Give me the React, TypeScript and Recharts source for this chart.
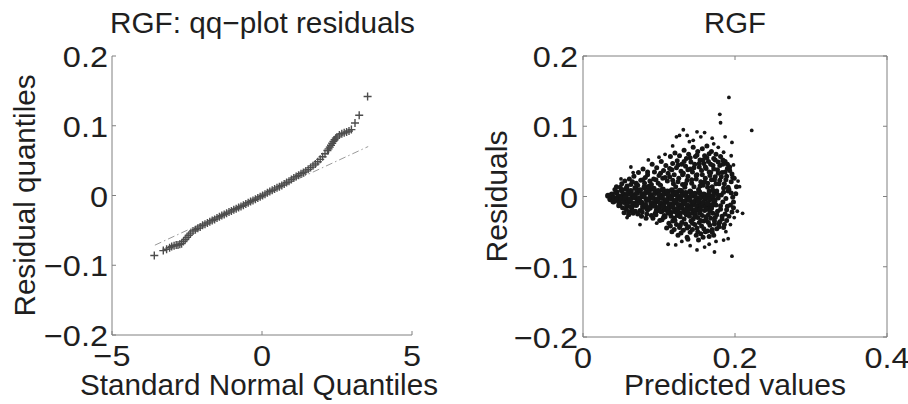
import React from 'react';
import { ScatterChart, Scatter, XAxis, YAxis, ReferenceLine } from 'recharts';

// qq-plot: theoretical normal quantiles vs. residual quantiles
const qqTheoretical = [
  -3.59, -3.29, -3.18, -3.08, -3.01, -2.93, -2.86, -2.8, -2.74, -2.68, -2.62, -2.56, -2.5, -2.44, -2.38,
  -2.3, -2.22, -2.14, -2.06, -1.98, -1.9, -1.82, -1.74, -1.66, -1.58, -1.5, -1.42, -1.34, -1.26, -1.18,
  -1.1, -1.02, -0.94, -0.86, -0.78, -0.7, -0.62, -0.54, -0.46, -0.38, -0.3, -0.22, -0.14, -0.06, 0.02,
  0.1, 0.18, 0.26, 0.34, 0.42, 0.5, 0.58, 0.66, 0.74, 0.82, 0.9, 0.98, 1.06, 1.14, 1.22, 1.3, 1.38,
  1.46, 1.54, 1.62, 1.7, 1.78, 1.86, 1.94, 2.02, 2.1, 2.18, 2.22, 2.26, 2.3, 2.34, 2.38, 2.42, 2.46,
  2.5, 2.58, 2.66, 2.74, 2.82, 2.9, 2.98, 3.1, 3.24, 3.52,
];
const qqResidual = [
  -0.086, -0.079, -0.077, -0.075, -0.073, -0.072, -0.071, -0.071, -0.07, -0.069, -0.066, -0.063, -0.06, -0.057, -0.054,
  -0.051, -0.049, -0.047, -0.045, -0.0428, -0.0411, -0.0395, -0.0378, -0.036, -0.0343, -0.0323, -0.0305, -0.0288, -0.0271, -0.0255,
  -0.0238, -0.0222, -0.0205, -0.0189, -0.0172, -0.0156, -0.0139, -0.0122, -0.0104, -0.0087, -0.007, -0.0053, -0.0036, -0.0018, 0.0,
  0.0019, 0.0038, 0.0057, 0.0076, 0.0092, 0.011, 0.0127, 0.0145, 0.0165, 0.0185, 0.0206, 0.0228, 0.025, 0.0271, 0.0291, 0.0311, 0.0331,
  0.0352, 0.0375, 0.04, 0.0425, 0.0452, 0.0484, 0.0518, 0.0556, 0.0598, 0.0645, 0.0668, 0.0694, 0.0721, 0.075, 0.0776, 0.08, 0.0822,
  0.084, 0.0868, 0.0885, 0.0898, 0.091, 0.0925, 0.0945, 0.104, 0.115, 0.142,
];
// fitted reference line (dash-dot)
const qqRefX = [-3.57, 3.54];
const qqRefY = [-0.0712, 0.0702];

// residuals vs predicted values: [predicted, residual]
const denseCore: [number, number][] = [
  [0.033, 0.001], [0.036, -0.004], [0.038, 0.003],
  [0.041, -0.002], [0.04, -0.007], [0.044, 0.006], [0.047, 0.0], [0.045, -0.005], [0.048, -0.01],
  [0.051, 0.009], [0.053, 0.003], [0.05, -0.003], [0.054, -0.008],
  [0.057, 0.011], [0.059, 0.004], [0.056, -0.001], [0.06, -0.007], [0.058, -0.013],
  [0.063, 0.008], [0.065, 0.002], [0.062, -0.004], [0.066, -0.01], [0.064, -0.015],
  [0.069, 0.012], [0.071, 0.005], [0.068, -0.001], [0.072, -0.006], [0.07, -0.012],
  [0.075, 0.009], [0.078, 0.003], [0.074, -0.003], [0.077, -0.009], [0.079, -0.015],
  [0.081, 0.013], [0.083, 0.006], [0.08, 0.0], [0.084, -0.005], [0.082, -0.012], [0.085, -0.018],
  [0.087, 0.009], [0.089, 0.002], [0.086, -0.004], [0.09, -0.01], [0.088, -0.016],
  [0.093, 0.011], [0.095, 0.005], [0.092, -0.002], [0.096, -0.007], [0.094, -0.013], [0.097, -0.02],
  [0.099, 0.008], [0.101, 0.002], [0.098, -0.004], [0.102, -0.01], [0.1, -0.016], [0.103, -0.021],
  [0.105, 0.01], [0.107, 0.004], [0.104, -0.002], [0.108, -0.008], [0.106, -0.014], [0.109, -0.019],
  [0.111, 0.007], [0.113, 0.001], [0.11, -0.005], [0.114, -0.011], [0.112, -0.017], [0.115, -0.023],
  [0.117, 0.009], [0.119, 0.003], [0.116, -0.003], [0.12, -0.009], [0.118, -0.015], [0.121, -0.021],
  [0.123, 0.006], [0.125, 0.0], [0.122, -0.006], [0.126, -0.012], [0.124, -0.018], [0.127, -0.024],
  [0.129, 0.008], [0.131, 0.002], [0.128, -0.004], [0.132, -0.01], [0.13, -0.016], [0.133, -0.022],
  [0.135, 0.005], [0.137, -0.001], [0.134, -0.007], [0.138, -0.013], [0.136, -0.019],
  [0.141, 0.007], [0.143, 0.001], [0.14, -0.005], [0.144, -0.011], [0.142, -0.017], [0.145, -0.023],
  [0.147, 0.004], [0.149, -0.002], [0.146, -0.008], [0.15, -0.014], [0.148, -0.02],
  [0.153, 0.006], [0.155, -0.001], [0.152, -0.007], [0.156, -0.013], [0.154, -0.019],
  [0.159, 0.003], [0.161, -0.003], [0.158, -0.009], [0.162, -0.015],
  [0.165, 0.002], [0.167, -0.004], [0.164, -0.01], [0.168, -0.016],
  [0.171, 0.0], [0.173, -0.006], [0.17, -0.012],
];

const spreadCloud: [number, number][] = [
  [0.044, 0.014], [0.047, -0.013], [0.042, 0.01],
  [0.051, 0.018], [0.049, 0.013], [0.052, -0.016], [0.048, -0.012],
  [0.055, 0.022], [0.058, 0.015], [0.057, -0.018], [0.054, -0.023],
  [0.061, 0.025], [0.063, 0.017], [0.064, -0.02], [0.06, -0.026],
  [0.067, 0.029], [0.07, 0.019], [0.069, -0.021], [0.066, -0.024],
  [0.073, 0.034], [0.076, 0.023], [0.072, 0.016], [0.075, -0.02], [0.077, -0.028],
  [0.079, 0.039], [0.082, 0.027], [0.081, 0.019], [0.078, -0.022], [0.083, -0.031],
  [0.085, 0.031], [0.088, 0.022], [0.087, 0.015], [0.084, -0.025],
  [0.091, 0.046], [0.094, 0.035], [0.093, 0.025], [0.09, 0.017], [0.095, -0.024], [0.092, -0.031],
  [0.097, 0.041], [0.1, 0.03], [0.099, 0.019], [0.096, -0.026], [0.101, -0.034],
  [0.103, 0.05], [0.106, 0.037], [0.105, 0.026], [0.102, 0.016], [0.107, -0.027], [0.104, -0.033],
  [0.109, 0.044], [0.112, 0.033], [0.111, 0.022], [0.108, -0.029], [0.113, -0.038], [0.11, -0.045],
  [0.115, 0.057], [0.118, 0.047], [0.117, 0.038], [0.114, 0.028], [0.119, 0.018], [0.116, -0.028], [0.118, -0.035], [0.115, -0.042], [0.117, -0.05],
  [0.121, 0.062], [0.124, 0.051], [0.123, 0.041], [0.12, 0.031], [0.125, 0.021], [0.122, 0.014], [0.124, -0.027], [0.121, -0.034], [0.123, -0.04], [0.12, -0.047], [0.125, -0.055],
  [0.127, 0.058], [0.13, 0.046], [0.129, 0.036], [0.126, 0.026], [0.131, 0.017], [0.128, -0.029], [0.13, -0.037], [0.127, -0.044], [0.129, -0.052],
  [0.133, 0.066], [0.136, 0.054], [0.135, 0.043], [0.132, 0.033], [0.137, 0.023], [0.134, 0.013], [0.136, -0.026], [0.133, -0.032], [0.135, -0.039], [0.132, -0.048], [0.137, -0.058],
  [0.139, 0.06], [0.142, 0.049], [0.141, 0.039], [0.138, 0.029], [0.143, 0.019], [0.14, -0.028], [0.142, -0.035], [0.139, -0.043], [0.141, -0.051], [0.138, -0.061],
  [0.145, 0.07], [0.148, 0.057], [0.147, 0.046], [0.144, 0.035], [0.149, 0.025], [0.146, 0.014], [0.148, -0.025], [0.145, -0.032], [0.147, -0.04], [0.144, -0.047], [0.149, -0.055],
  [0.151, 0.064], [0.154, 0.052], [0.153, 0.042], [0.15, 0.031], [0.155, 0.021], [0.152, 0.01], [0.154, -0.024], [0.151, -0.03], [0.153, -0.037], [0.15, -0.045], [0.155, -0.053], [0.152, -0.062],
  [0.157, 0.068], [0.16, 0.058], [0.159, 0.047], [0.156, 0.037], [0.161, 0.026], [0.158, 0.016], [0.16, -0.02], [0.157, -0.027], [0.159, -0.035], [0.156, -0.042], [0.161, -0.05], [0.158, -0.058],
  [0.163, 0.072], [0.166, 0.061], [0.165, 0.05], [0.162, 0.04], [0.167, 0.03], [0.164, 0.019], [0.166, 0.008], [0.163, -0.018], [0.165, -0.026], [0.162, -0.033], [0.167, -0.041], [0.164, -0.049], [0.166, -0.057],
  [0.169, 0.064], [0.172, 0.054], [0.171, 0.044], [0.168, 0.034], [0.173, 0.024], [0.17, 0.014], [0.172, 0.005], [0.169, -0.017], [0.171, -0.024], [0.168, -0.031], [0.173, -0.039], [0.17, -0.047], [0.172, -0.055],
  [0.175, 0.06], [0.178, 0.049], [0.177, 0.038], [0.174, 0.028], [0.179, 0.018], [0.176, 0.008], [0.178, -0.002], [0.175, -0.012], [0.177, -0.021], [0.174, -0.03], [0.179, -0.038], [0.176, -0.046],
  [0.181, 0.057], [0.184, 0.046], [0.183, 0.034], [0.18, 0.023], [0.185, 0.012], [0.182, 0.002], [0.184, -0.008], [0.181, -0.018], [0.183, -0.028], [0.18, -0.036], [0.185, -0.044],
  [0.187, 0.05], [0.19, 0.04], [0.189, 0.029], [0.186, 0.018], [0.191, 0.008], [0.188, -0.003], [0.19, -0.014], [0.187, -0.025], [0.189, -0.034],
  [0.193, 0.042], [0.196, 0.032], [0.195, 0.021], [0.192, 0.01], [0.197, -0.001], [0.194, -0.012], [0.196, -0.022],
  [0.199, 0.026], [0.202, 0.014], [0.201, 0.004], [0.198, -0.008],
];

const fillCloud: [number, number][] = [
  [0.125, 0.045], [0.127, 0.009], [0.128, -0.041], [0.131, 0.031], [0.133, 0.05], [0.135, 0.018], [0.137, -0.045],
  [0.138, 0.038], [0.139, -0.024], [0.141, 0.055], [0.143, 0.024], [0.144, -0.038], [0.146, 0.041], [0.147, -0.029],
  [0.149, 0.03], [0.15, 0.059], [0.151, -0.05], [0.153, 0.047], [0.154, 0.015], [0.155, -0.034], [0.157, 0.031],
  [0.158, 0.052], [0.159, -0.046], [0.16, 0.021], [0.161, 0.042], [0.162, -0.029], [0.163, 0.055], [0.164, 0.013],
  [0.165, -0.037], [0.166, 0.035], [0.167, -0.021], [0.168, 0.046], [0.169, 0.024], [0.17, -0.051], [0.171, 0.009],
  [0.172, 0.039], [0.173, -0.035], [0.174, 0.052], [0.175, 0.018], [0.176, -0.026], [0.177, 0.003], [0.178, 0.033],
  [0.179, -0.043], [0.18, 0.044], [0.181, -0.013], [0.182, 0.028], [0.183, -0.032], [0.184, 0.052], [0.185, 0.006],
  [0.186, -0.04], [0.187, 0.035], [0.188, 0.024], [0.189, -0.019], [0.19, 0.046], [0.191, 0.013], [0.192, -0.028],
  [0.193, 0.037], [0.195, 0.005], [0.197, 0.027], [0.198, -0.016], [0.118, 0.023], [0.12, -0.031], [0.114, 0.04],
  [0.112, -0.024], [0.108, 0.027], [0.106, -0.03], [0.102, 0.033], [0.096, 0.024], [0.09, -0.027], [0.085, 0.035],
  [0.079, 0.024], [0.072, -0.025], [0.065, 0.021], [0.06, -0.022],
];

const outliers: [number, number][] = [
  [0.192, 0.141], [0.18, 0.117], [0.181, 0.105], [0.222, 0.094], [0.196, 0.077], [0.187, 0.085],
  [0.17, 0.083], [0.16, 0.091], [0.15, 0.092], [0.132, 0.095], [0.123, 0.085], [0.127, 0.087],
  [0.137, 0.087], [0.155, 0.085], [0.086, 0.052], [0.063, 0.042], [0.14, 0.078], [0.172, 0.075],
  [0.178, 0.07], [0.185, 0.063], [0.195, 0.058], [0.198, 0.045], [0.206, 0.014], [0.204, 0.022],
  [0.21, -0.024], [0.203, -0.021], [0.199, -0.03], [0.191, -0.06], [0.196, -0.085], [0.173, -0.079],
  [0.15, -0.076], [0.141, -0.07], [0.122, -0.069], [0.112, -0.068], [0.16, -0.072], [0.166, -0.068],
  [0.185, -0.062], [0.097, -0.038], [0.075, -0.04], [0.058, -0.03], [0.05, 0.025], [0.066, 0.034],
  [0.108, 0.06], [0.118, 0.072], [0.145, 0.08], [0.175, -0.064], [0.13, -0.064], [0.188, -0.05],
  [0.194, -0.04], [0.1, 0.056],
];

const qqXTicks = [-5, 0, 5];
const residTicks = [-0.2, -0.1, 0, 0.1, 0.2];
const predTicks = [0, 0.2, 0.4];

const FONT = '"Liberation Sans", Arial, Helvetica, sans-serif';
const FS = 29;
const TEXT = '#1f1f1f';
const AXIS = '#808080';
const STRETCH = 1.12;

const fmt = (v: number) => (v < 0 ? '\u2212' + Math.abs(v) : String(v));
const toPts = (rows: [number, number][]) => rows.map(([x, y]) => ({ x, y }));
const qqData = qqTheoretical.map((x, i) => ({ x, y: qqResidual[i] }));

function BottomTick({ x, y, payload }: any) {
  return (
    <g>
      <line x1={x} x2={x} y1={y} y2={y - 4} stroke={AXIS} />
      <text transform={`translate(${x},${y + 31}) scale(${STRETCH},1)`} textAnchor="middle"
        fontSize={FS} fontFamily={FONT} fill={TEXT}>{fmt(payload.value)}</text>
    </g>
  );
}

const leftTick = (gap: number) => ({ x, y, payload }: any) => (
  <g>
    <line x1={x} x2={x + 4} y1={y} y2={y} stroke={AXIS} />
    <text transform={`translate(${x - gap},${y + 11}) scale(${STRETCH},1)`} textAnchor="end"
      fontSize={FS} fontFamily={FONT} fill={TEXT}>{fmt(payload.value)}</text>
  </g>
);

const TopTick = ({ x, y }: any) => <line x1={x} x2={x} y1={y} y2={y + 4} stroke={AXIS} />;
const RightTick = ({ x, y }: any) => <line x1={x} x2={x - 4} y1={y} y2={y} stroke={AXIS} />;

const Plus = ({ cx, cy }: any) => (
  <path d={`M${cx - 4},${cy}H${cx + 4}M${cx},${cy - 4}V${cy + 4}`} stroke="#4d4d4d" strokeWidth={1.4} fill="none" />
);
const Dot = (r: number) => ({ cx, cy }: any) => <circle cx={cx} cy={cy} r={r} fill="#151515" />;

const hText = (text: string, cx: number, y: number, len: number) => () => (
  <text x={cx} y={y} textAnchor="middle" textLength={len} lengthAdjust="spacingAndGlyphs"
    fontSize={FS} fontFamily={FONT} fill={TEXT}>{text}</text>
);
const vText = (text: string, cx: number, len: number) => ({ viewBox }: any) => {
  const cy = viewBox.y + viewBox.height / 2;
  return (
    <text x={cx} y={cy} transform={`rotate(-90 ${cx} ${cy})`} textAnchor="middle" dominantBaseline="central"
      textLength={len} lengthAdjust="spacingAndGlyphs" fontSize={FS} fontFamily={FONT} fill={TEXT}>{text}</text>
  );
};

export default function App() {
  return (
    <div style={{ position: 'absolute', left: 0, top: 0, width: 908, height: 404, background: '#fff', overflow: 'hidden' }}>
      <div style={{ position: 'absolute', left: 0, top: 0 }}>
        <ScatterChart width={454} height={404} margin={{ top: 55, right: 42, bottom: 0, left: 0 }}>
          <XAxis xAxisId="b" type="number" dataKey="x" domain={[-5, 5]} ticks={qqXTicks} height={69}
            stroke={AXIS} tickLine={false} tickSize={0} tickMargin={0} tick={<BottomTick />}
            label={{ content: hText('Standard Normal Quantiles', 259, 395, 358) }} />
          <XAxis xAxisId="t" orientation="top" type="number" dataKey="x" domain={[-5, 5]} height={1}
            axisLine={false} tickLine={false} tick={false}
            label={{ content: hText('RGF: qq\u2212plot residuals', 262.5, 33, 305) }} />
          <YAxis type="number" dataKey="y" domain={[-0.2, 0.2]} ticks={residTicks} width={112}
            stroke={AXIS} tickLine={false} tickSize={0} tickMargin={0} tick={leftTick(4)}
            label={{ content: vText('Residual quantiles', 25, 242) }} />
          <ReferenceLine xAxisId="b" segment={[{ x: qqRefX[0], y: qqRefY[0] }, { x: qqRefX[1], y: qqRefY[1] }]}
            stroke="#9a9a9a" strokeWidth={1} strokeDasharray="7 3 1.5 3" />
          <Scatter xAxisId="b" data={qqData} shape={<Plus />} isAnimationActive={false} />
          <Scatter xAxisId="t" data={qqData} shape={() => null} isAnimationActive={false} />
        </ScatterChart>
      </div>

      <div style={{ position: 'absolute', left: 454, top: 0 }}>
        <ScatterChart width={454} height={404} margin={{ top: 55, right: 20, bottom: 0, left: 0 }}>
          <XAxis xAxisId="b" type="number" dataKey="x" domain={[0, 0.4]} ticks={predTicks} height={67}
            stroke={AXIS} tickLine={false} tickSize={0} tickMargin={0} tick={<BottomTick />}
            label={{ content: hText('Predicted values', 281, 395, 222) }} />
          <XAxis xAxisId="t" orientation="top" type="number" dataKey="x" domain={[0, 0.4]} ticks={predTicks} height={1}
            stroke={AXIS} tickLine={false} tickSize={0} tickMargin={0} tick={<TopTick />}
            label={{ content: hText('RGF', 281, 33, 62) }} />
          <YAxis yAxisId="l" type="number" dataKey="y" domain={[-0.2, 0.2]} ticks={residTicks} width={129}
            stroke={AXIS} tickLine={false} tickSize={0} tickMargin={0} tick={leftTick(5)}
            label={{ content: vText('Residuals', 42.5, 132) }} />
          <YAxis yAxisId="r" orientation="right" type="number" dataKey="y" domain={[-0.2, 0.2]} ticks={residTicks} width={1}
            stroke={AXIS} tickLine={false} tickSize={0} tickMargin={0} tick={<RightTick />} />
          <Scatter xAxisId="t" yAxisId="r" data={toPts(outliers)} shape={() => null} isAnimationActive={false} />
          <Scatter xAxisId="b" yAxisId="l" data={toPts(denseCore)} shape={Dot(3)} isAnimationActive={false} />
          <Scatter xAxisId="b" yAxisId="l" data={toPts(spreadCloud)} shape={Dot(2.5)} isAnimationActive={false} />
          <Scatter xAxisId="b" yAxisId="l" data={toPts(fillCloud)} shape={Dot(2.5)} isAnimationActive={false} />
          <Scatter xAxisId="b" yAxisId="l" data={toPts(outliers)} shape={Dot(1.9)} isAnimationActive={false} />
        </ScatterChart>
      </div>
    </div>
  );
}
